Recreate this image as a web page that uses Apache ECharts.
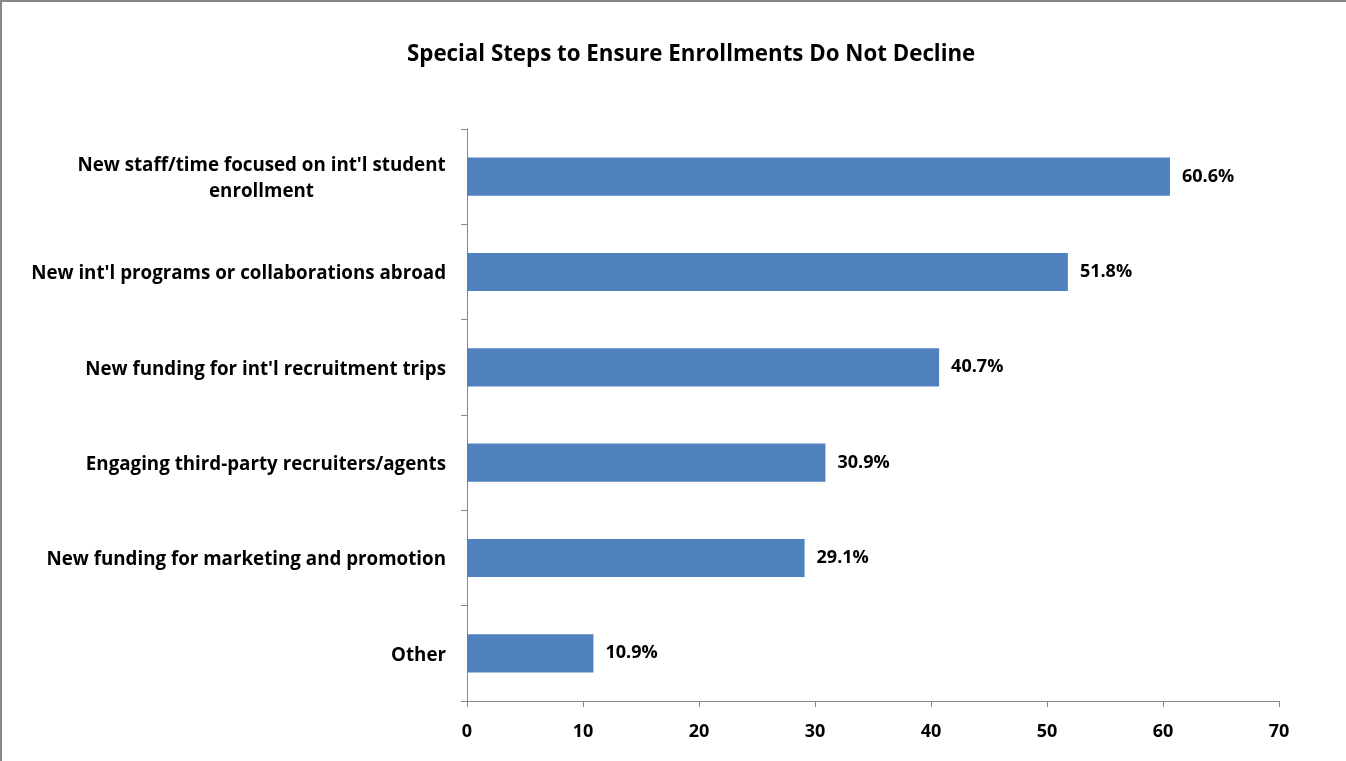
<!DOCTYPE html>
<html><head><meta charset="utf-8">
<script src="https://cdn.jsdelivr.net/npm/echarts@6/dist/echarts.min.js"></script>
<style>html,body{margin:0;padding:0;background:#fff;}#c{width:1346px;height:761px;}</style>
</head><body><div id="c"></div>
<script>
const titleText = 'Special Steps to Ensure Enrollments Do Not Decline';
const categories = ["New staff/time focused on int'l student enrollment", "New int'l programs or collaborations abroad", "New funding for int'l recruitment trips", "Engaging third-party recruiters/agents", "New funding for marketing and promotion", "Other"];
const values = [60.6, 51.8, 40.7, 30.9, 29.1, 10.9];
const xTicks = {min: 0, max: 70, interval: 10};

const FONT = '"Open Sans"';
const chart = echarts.init(document.getElementById('c'));
chart.setOption({
  animation: false,
  backgroundColor: '#fff',
  graphic: [{type: 'rect', shape: {x: 1, y: 1, width: 1400, height: 800}, style: {fill: 'none', stroke: '#888', lineWidth: 2}}],
  title: {text: titleText, left: 402, top: 39, textStyle: {fontFamily: FONT, fontWeight: 'bold', fontSize: 22.3, color: '#000'}},
  grid: {left: 467, right: 67, top: 129, bottom: 60, containLabel: false},
  xAxis: {type: 'value', min: xTicks.min, max: xTicks.max, interval: xTicks.interval,
    axisLine: {show: true, lineStyle: {color: '#888'}},
    axisTick: {show: true, length: 6, lineStyle: {color: '#888'}},
    splitLine: {show: false},
    axisLabel: {margin: 22, fontFamily: FONT, fontWeight: 'bold', fontSize: 18, color: '#000'}},
  yAxis: {type: 'category', data: categories, inverse: true,
    axisLine: {show: true, lineStyle: {color: '#888'}},
    axisTick: {show: true, length: 6, lineStyle: {color: '#888'}},
    axisLabel: {margin: 21, padding: [4, 0, 0, 0], fontFamily: FONT, fontWeight: 'bold', fontSize: 18.75, color: '#000', lineHeight: 26,
      formatter: function (v) {
        if (v.length > 45) {
          const i = v.lastIndexOf(' ', 40);
          return '{c|' + v.slice(0, i) + '}\n{c|' + v.slice(i + 1) + '}';
        }
        return v;
      },
      rich: {c: {width: 369, align: 'center', fontFamily: FONT, fontWeight: 'bold', fontSize: 18.75, color: '#000', lineHeight: 26}}}},
  series: [{type: 'bar', data: values, barCategoryGap: '60%',
    itemStyle: {color: '#4F81BD'},
    label: {show: true, position: 'right', distance: 12, padding: [5, 0, 0, 0], formatter: p => p.value.toFixed(1) + '%',
      fontFamily: FONT, fontWeight: 'bold', fontSize: 18, color: '#000'}}]
});
</script></body></html>
